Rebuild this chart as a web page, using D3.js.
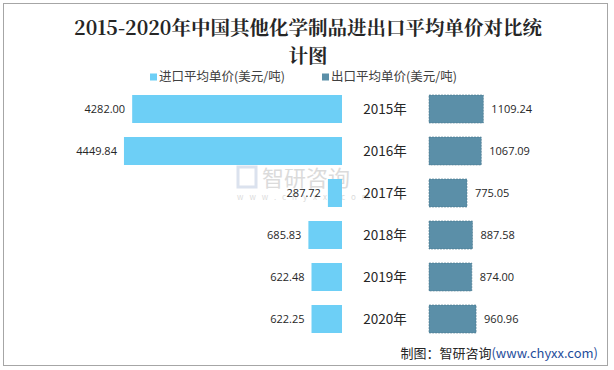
<!DOCTYPE html>
<html>
<head>
<meta charset="utf-8">
<script src="https://cdn.jsdelivr.net/npm/d3@7"></script>
<style>
  html, body { margin: 0; padding: 0; background: #fff; }
  svg text { font-family: "Noto Sans CJK SC", "Open Sans", sans-serif; }
</style>
</head>
<body>
<div id="chart"></div>
<script>
// chart data
const years = ['2015年', '2016年', '2017年', '2018年', '2019年', '2020年'];
const importPrice = [4282.00, 4449.84, 287.72, 685.83, 622.48, 622.25];
const exportPrice = [1109.24, 1067.09, 775.05, 887.58, 874.00, 960.96];
const seriesNames = ['进口平均单价(美元/吨)', '出口平均单价(美元/吨)'];

const width = 614, height = 370;
const colors = ['#6dcff6', '#5b8fa8'];

const svg = d3.select('#chart').append('svg')
  .attr('width', width)
  .attr('height', height);

// outer frame
svg.append('rect')
  .attr('x', 3.5).attr('y', 3.5)
  .attr('width', 604).attr('height', 362)
  .attr('fill', '#fff')
  .attr('stroke', '#a6a6a6');

// title
const title = svg.append('text')
  .attr('text-anchor', 'middle')
  .style('font-family', '"Noto Serif CJK SC", "DejaVu Serif", "Noto Sans CJK SC", serif')
  .style('font-size', '19.5px')
  .style('font-weight', 'bold')
  .attr('fill', '#262626');
title.append('tspan').attr('x', 308).attr('y', 35).text('2015-2020年中国其他化学制品进出口平均单价对比统');
title.append('tspan').attr('x', 308).attr('y', 63).text('计图');

// legend
const legendX = [150, 322];
seriesNames.forEach((name, i) => {
  const g = svg.append('g').attr('transform', `translate(${legendX[i]}, 77)`);
  g.append('rect').attr('x', 0).attr('y', -3.5).attr('width', 7).attr('height', 7).attr('fill', colors[i]);
  g.append('text').attr('x', 9).attr('dy', '0.35em')
    .style('font-size', '12.5px').attr('fill', '#404040').text(name);
});

// scales
const y = d3.scaleBand()
  .domain(years)
  .range([88, 340])
  .paddingInner(1 / 3)
  .paddingOuter(1 / 6);

const len = d3.scaleLinear().domain([0, 4500]).range([0, 220.5]);
const leftEdge = 342;   // right end of import bars
const rightEdge = 429;  // left start of export bars

// watermark
const wm = svg.append('g').attr('opacity', 0.3);
wm.append('text').attr('x', 262).attr('y', 186)
  .style('font-size', '22px').attr('fill', '#8a8a8a').text('智研咨询');
wm.append('rect').attr('x', 238).attr('y', 167).attr('width', 18).attr('height', 20)
  .attr('fill', 'none').attr('stroke', '#8aa0c8').attr('stroke-width', 3);
wm.append('text').attr('x', 237).attr('y', 200)
  .style('font-size', '8px').attr('fill', '#8a8a8a').attr('letter-spacing', '6px')
  .text('www.chyxx.com');

// import bars (left)
svg.append('g').selectAll('rect')
  .data(importPrice)
  .join('rect')
  .attr('x', d => leftEdge - len(d))
  .attr('y', (d, i) => y(years[i]))
  .attr('width', d => len(d))
  .attr('height', y.bandwidth())
  .attr('fill', colors[0]);

svg.append('g').selectAll('text')
  .data(importPrice)
  .join('text')
  .attr('x', d => leftEdge - len(d) - 7)
  .attr('y', (d, i) => y(years[i]) + y.bandwidth() / 2)
  .attr('dy', '0.35em')
  .attr('text-anchor', 'end')
  .style('font-family', '"Open Sans", sans-serif')
  .style('font-size', '11px')
  .attr('fill', '#262626')
  .text(d => d.toFixed(2));

// export bars (right)
svg.append('g').selectAll('rect')
  .data(exportPrice)
  .join('rect')
  .attr('x', rightEdge)
  .attr('y', (d, i) => y(years[i]))
  .attr('width', d => len(d))
  .attr('height', y.bandwidth())
  .attr('fill', colors[1])
  .attr('stroke', '#46768c')
  .attr('stroke-width', 0.6)
  .attr('stroke-dasharray', '2,1');

svg.append('g').selectAll('text')
  .data(exportPrice)
  .join('text')
  .attr('x', d => rightEdge + len(d) + 8)
  .attr('y', (d, i) => y(years[i]) + y.bandwidth() / 2)
  .attr('dy', '0.35em')
  .style('font-family', '"Open Sans", sans-serif')
  .style('font-size', '11px')
  .attr('fill', '#262626')
  .text(d => d.toFixed(2));

// year labels in the middle
svg.append('g').selectAll('text')
  .data(years)
  .join('text')
  .attr('x', 385)
  .attr('y', d => y(d) + y.bandwidth() / 2)
  .attr('dy', '0.35em')
  .attr('text-anchor', 'middle')
  .style('font-size', '13.5px')
  .attr('fill', '#262626')
  .text(d => d);

// source note
const src = svg.append('text')
  .attr('x', 598).attr('y', 358)
  .attr('text-anchor', 'end')
  .style('font-size', '13px');
src.append('tspan').attr('fill', '#262626').text('制图：智研咨询');
src.append('tspan').attr('fill', '#1f4e9c').text('(www.chyxx.com)');
</script>
</body>
</html>
